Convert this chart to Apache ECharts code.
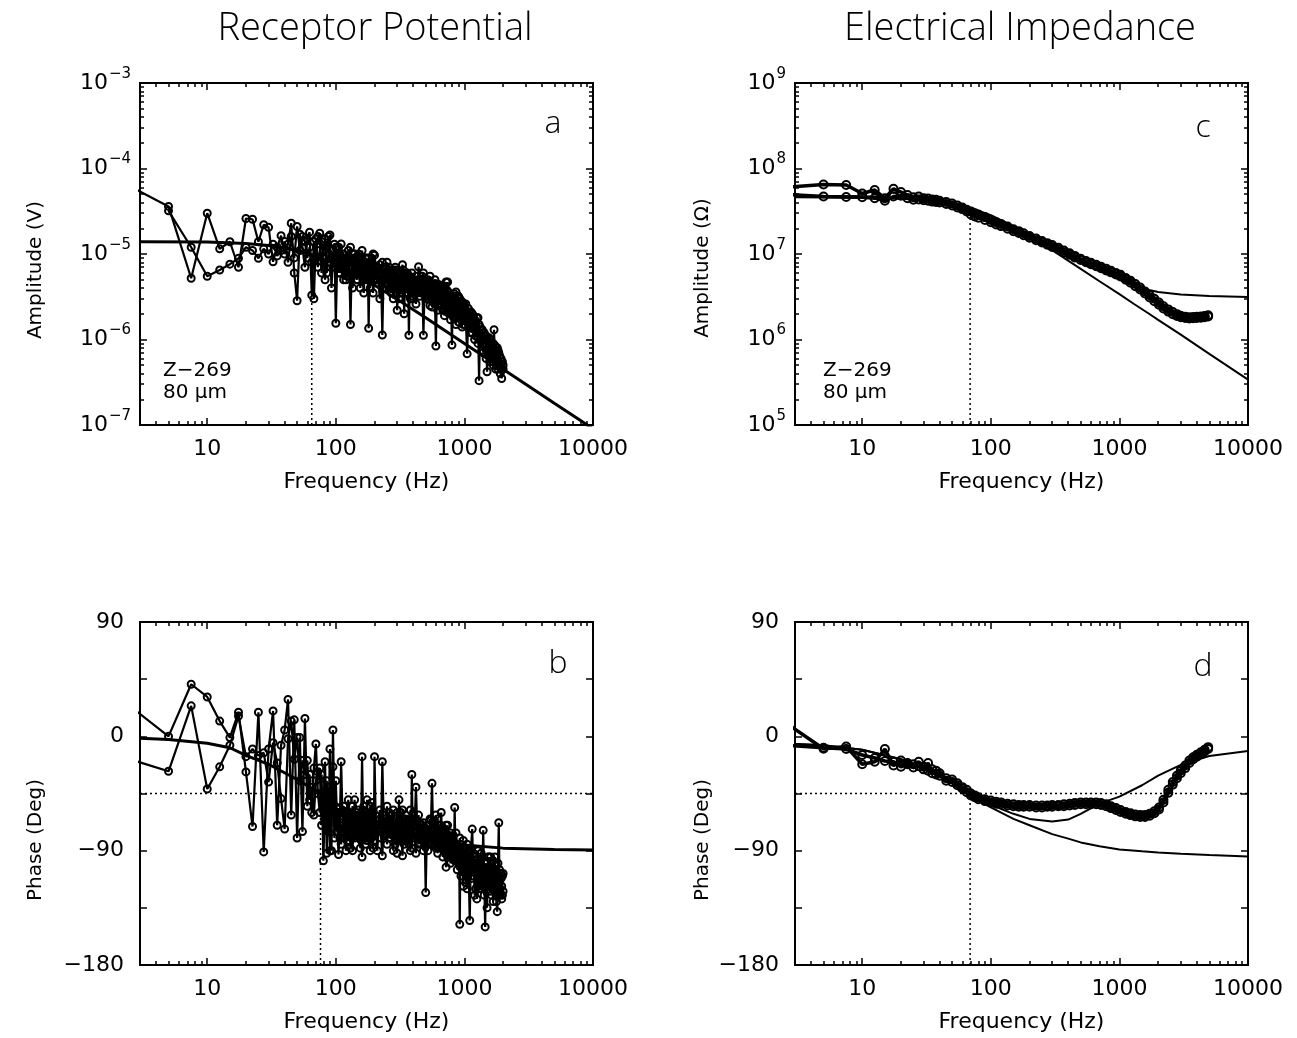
<!DOCTYPE html>
<html><head><meta charset="utf-8">
<script src="https://cdn.jsdelivr.net/npm/echarts@6/dist/echarts.min.js"></script>
<style>html,body{margin:0;padding:0;background:#fff}#c{width:1297px;height:1038px}</style>
</head><body><div id="c"></div>
<script>
// ---------------- DATA ----------------
// Receptor potential: frequencies (Hz) shared by amplitude (a) and phase (b)
const FREQ_RP = [2.5,5,7.5,10,12.5,15,17.5,20,22.5,25,27.5,30,32.5,35,37.5,40,42.5,45,47.5,50,52.5,55,57.5,60,62.5,65,67.5,70,72.5,75,77.5,80,82.5,85,87.5,90,92.5,95,97.5,100,
102.5,105,107.5,110,112.5,115,117.5,120,122.5,125,127.5,130,132.5,135,137.5,140,142.5,145,147.5,150,152.5,155,157.5,160,162.5,165,167.5,170,172.5,175,177.5,180,182.5,185,187.5,190,192.5,195,197.5,200,
205,210,215,220,225,230,235,240,245,250,255,260,265,270,275,280,285,290,295,300,305,310,315,320,325,330,335,340,345,350,355,360,365,370,375,380,385,390,395,400,
410,420,430,440,450,460,470,480,490,500,510,520,530,540,550,560,570,580,590,600,610,620,630,640,650,660,670,680,690,700,710,720,730,740,750,760,770,780,790,800,810,820,830,840,850,860,870,880,890,900,910,920,930,940,950,960,970,980,990,1000,
1025,1050,1075,1100,1125,1150,1175,1200,1225,1250,1275,1300,1325,1350,1375,1400,1425,1450,1475,1500,1525,1550,1575,1600,1625,1650,1675,1700,1725,1750,1775,1800,1825,1850,1875,1900,1925,1950,1975,2000];
// amplitude in microvolts (two repeated runs)
const AMP_A1_UV = [62,36,5.2,30,11.5,13.9,7.0,26,25.5,13.9,22,20.5,8.1,12,16.4,10,13,22.9,6,2.84,17,12,7,15,18,3.3,14,9,16,17.5,6,11,15,6,10,16.7,4,9,13,1.55,
8,12,6,7,9,10,6.5,5,8.5,11,7,1.5,6,8,10,9,6,5,8,7,9,4,6.5,11,7.5,6,8,9,5.5,5,7,1.35,6,8,5,6,7.5,3.5,6,9.7,
7,5,6,7.5,5,1.13,5.5,6.5,4.5,8,5,4,6.5,6,4,3,5.5,7,4.5,5,6,3,5,6,3.8,4.5,6.5,2,4.5,5.5,3.5,4,5.5,1.12,4,5,3.5,6,4.5,3,
4,5.5,3.5,7.1,4.5,3.5,5,1.12,4,4.5,3.2,3,4.8,5.5,3.5,2.4,4,4.5,3,0.84,3.2,3.8,4.4,2.6,3.3,4.2,2.8,2.2,3.6,3.5,2.4,2.6,3.8,4.7,2.7,2,3,3.2,2.2,0.86,2.5,2.8,3.2,1.8,2.4,3.6,2.5,2.2,3.1,1.6,2.5,3,1.9,2,2.8,2.7,2,1.5,2.6,2.4,
1.7,0.68,2.3,1.4,2.1,1.2,1.9,1.0,1.6,1.2,1.8,0.33,1.4,1.0,1.3,0.7,1.2,0.9,1.1,0.42,0.95,0.7,1.0,0.6,0.85,0.55,0.9,1.3,0.6,0.75,0.5,0.8,0.45,0.7,0.5,0.4,0.6,0.35,0.55,0.45];
const AMP_A2_UV = [null,32,12,5.5,6.5,7.6,8.9,12,11,8.9,11.5,10,13,9.5,11,14,8,16,9,21,11,16,14,9,12,8,3.0,15,7,11,14,9,5,12,16,8,11,7,9.5,12,
9,6,10,13.1,7,5,8,9,5.5,7,9,12,7,4,6,10,8,7.5,5,10,6.5,6,9,8,5,3.5,7,9,7.5,6.5,5,9,7,4,8,7.5,5.5,10,7,6,
5,7,4.5,3,6,8,4,4.5,7,5.5,6.5,7,4,3.5,6,6.5,4,5,6.5,2.2,4.5,6,3.5,4,6,7.5,4,5,6,3.5,5,6,3.5,4.5,5.5,3,4.5,5,3.2,4,
5,2.6,4.5,5,3.2,4,5.5,6,3.5,3,4.5,5,3,2.5,4.2,4,2.8,3.2,5,4.5,2.8,2.2,3.5,4,2.5,2.8,3.9,3.5,2.3,1.9,3.4,4.7,2.6,2.3,3.6,3.3,2.1,1.7,3.1,3,2.2,2,2.9,3.4,2.1,1.5,2.7,2.8,1.9,3.2,2.3,1.9,2.8,2.6,1.8,1.4,2.5,2.3,1.7,1.8,
2.6,2,1.5,2.1,1.2,2.0,1.4,1.7,1.1,1.8,0.9,1.5,1.0,1.3,0.75,1.2,0.9,1.1,0.6,1.0,0.7,1.05,0.55,0.9,0.65,0.8,0.5,0.75,0.85,0.45,0.7,0.5,0.75,0.5,0.65,0.6,0.45,0.55,0.45,0.5];
// phase in degrees (two repeated runs)
const PH_B1_DEG = [24,0,41,31,12,-1,19,-28,-71,19,-91,-10,20,-70,-7,5,29,-62,13,-80,-1,-75,14,-55,-30,-60,-25,-6,-45,-60,-30,-98,-50,-35,-75,-10,-90,5,-60,-35,
-70,-93,-65,-20,-60,-75,-80,-60,-72,-82,-65,-88,-62,-55,-75,-50,-70,-78,-64,-72,-80,-88,-66,-16,-58,-70,-78,-85,-68,-50,-72,-62,-80,-90,-70,-78,-66,-60,-75,-16,
-76,-70,-66,-58,-80,-94,-70,-65,-74,-55,-68,-80,-72,-62,-78,-90,-70,-85,-72,-60,-75,-50,-68,-75,-82,-94,-72,-68,-80,-65,-74,-82,-66,-78,-70,-58,-76,-30,-66,-72,
-70,-40,-74,-85,-68,-70,-82,-90,-72,-123,-78,-70,-84,-80,-66,-37,-72,-75,-86,-88,-74,-65,-80,-82,-70,-60,-84,-95,-80,-78,-88,-103,-82,-70,-86,-90,-80,-76,-92,-95,-84,-78,-90,-56,-86,-92,-98,-85,-94,-100,-90,-148,-96,-90,-104,-105,-92,-82,-98,-100,
-115,-85,-98,-145,-88,-73,-110,-95,-120,-100,-90,-120,-105,-92,-118,-74,-110,-150,-100,-115,-95,-118,-105,-95,-125,-108,-98,-120,-112,-105,-130,-138,-100,-68,-115,-125,-108,-128,-110,-108];
const PH_B2_DEG = [-18,-27.5,24,-41.5,-24,-7,16,-16,-10,-15,-13,-36,-5,-21,-49,-73,-2,12,-18,-1,-35,-19,-30,-19,-50,-40,-62,-35,-28,-25,-70,-55,-20,-92,-45,-90,-60,-24,-80,-60,
-75,-60,-80,-85,-68,-55,-72,-90,-62,-50,-78,-65,-80,-90,-66,-80,-62,-60,-76,-58,-70,-75,-82,-95,-70,-55,-66,-60,-78,-82,-64,-75,-70,-55,-80,-52,-72,-88,-68,-82,
-66,-90,-74,-65,-70,-20,-62,-78,-68,-85,-74,-60,-80,-72,-66,-58,-78,-70,-82,-92,-68,-80,-76,-60,-70,-58,-80,-85,-68,-62,-78,-75,-84,-72,-66,-90,-74,-88,-78,-65,
-80,-92,-70,-62,-84,-80,-72,-68,-86,-75,-70,-90,-76,-65,-82,-85,-74,-78,-70,-62,-84,-92,-76,-75,-88,-85,-74,-72,-90,-88,-76,-70,-92,-95,-80,-78,-94,-100,-86,-82,-96,-90,-84,-98,-92,-76,-90,-105,-98,-88,-100,-80,-95,-110,-98,-92,-106,-118,-100,-95,
-88,-120,-100,-90,-112,-105,-92,-125,-98,-128,-105,-100,-115,-120,-96,-108,-125,-100,-118,-135,-105,-95,-122,-110,-100,-120,-130,-105,-95,-118,-108,-115,-125,-110,-105,-120,-112,-118,-125,-122];
// fitted model curves (receptor potential)
const MODEL_A_HZ = [3,10,20,30,50,65,100,150,200,300,500,700,1000,1500,2000,3000,5000,8000,10000];
const MODEL_A_UV = [13.9,13.8,13.3,12.6,11,9.8,7.6,5.5,4.3,2.95,1.8,1.28,0.9,0.6,0.45,0.3,0.18,0.113,0.09];
const MODEL_B_HZ = [3,5,10,15,20,30,50,76,100,150,200,300,500,1000,2000,5000,10000];
const MODEL_B_DEG = [-1.5,-2.5,-5.5,-9,-15,-22,-34,-45,-53,-62,-68,-75,-81,-85.5,-88,-89,-89.5];
const CORNER_A_HZ = 65, CORNER_A_UV = 9.8;
const CORNER_B_HZ = 76;

// Electrical impedance: frequencies (Hz) shared by amplitude (c) and phase (d)
const FREQ_Z = [2.5,5,7.5,10,12.5,15,17.5,20,22.5,25,27.5,30,32.5,35,37.5,40,45,50,55,60,65,70,75,80,90,100,110,120,135,150,165,180,200,225,250,275,300,335,370,410,450,500,550,600,660,720,790,860,940,1020,1120,1220,1330,1450,1580,1720,1870,2030,2200,2400,2600,2800,3000,3250,3500,3750,4000,4300,4600,4900];
const IMP_C1_OHM = [6.0e7,6.5e7,6.4e7,5.1e7,5.6e7,4.5e7,5.8e7,5.3e7,4.9e7,4.6e7,4.7e7,4.5e7,4.45e7,4.35e7,4.3e7,4.2e7,4.05e7,3.9e7,3.7e7,3.5e7,3.3e7,3.15e7,3.0e7,2.9e7,2.7e7,2.5e7,2.35e7,2.25e7,2.1e7,1.95e7,1.85e7,1.75e7,1.62e7,1.52e7,1.42e7,1.34e7,1.27e7,1.18e7,1.1e7,1.02e7,9.5e6,8.8e6,8.3e6,7.9e6,7.5e6,7.1e6,6.7e6,6.35e6,6.0e6,5.7e6,5.25e6,4.85e6,4.45e6,4.05e6,3.65e6,3.3e6,3.0e6,2.7e6,2.45e6,2.25e6,2.1e6,1.98e6,1.9e6,1.85e6,1.82e6,1.83e6,1.85e6,1.86e6,1.88e6,1.92e6];
const IMP_C2_OHM = [5.0e7,4.7e7,4.65e7,4.6e7,4.5e7,4.2e7,4.7e7,4.8e7,4.5e7,4.3e7,4.35e7,4.25e7,4.2e7,4.1e7,4.05e7,4.0e7,3.85e7,3.7e7,3.5e7,3.35e7,3.15e7,2.9e7,2.75e7,2.65e7,2.5e7,2.35e7,2.22e7,2.12e7,1.98e7,1.85e7,1.76e7,1.66e7,1.55e7,1.45e7,1.36e7,1.28e7,1.21e7,1.13e7,1.05e7,9.8e6,9.1e6,8.5e6,8.0e6,7.6e6,7.2e6,6.8e6,6.4e6,6.1e6,5.75e6,5.45e6,5.0e6,4.6e6,4.2e6,3.85e6,3.45e6,3.1e6,2.8e6,2.55e6,2.3e6,2.12e6,1.98e6,1.88e6,1.82e6,1.78e6,1.76e6,1.77e6,1.78e6,1.8e6,1.82e6,1.86e6];
const PH_D1_DEG = [11,-9.8,-8,-22,-20,-10,-23,-19,-21,-22,-20,-26,-21,-29,-27,-31,-33,-34,-37,-40,-42,-45,-46.5,-48,-49.5,-50.5,-51.5,-52,-53,-53.5,-54,-54,-54,-54.5,-54.5,-54.5,-54,-54,-53.5,-53,-52.5,-52,-52,-52,-52,-52.5,-53.5,-55,-56.5,-58,-59.5,-60.5,-61.5,-62,-62,-61,-59,-56,-50,-42,-36,-31,-27,-23,-19,-16.5,-14.5,-12.5,-10.5,-8.5];
const PH_D2_DEG = [-7,-9,-10,-14.7,-17,-19.4,-20,-24,-22,-24.5,-23.5,-24,-27,-26,-30,-29,-35,-36,-38.5,-41,-44,-46.5,-48,-49.5,-51,-52,-53,-53.5,-54.5,-55,-55.5,-55.5,-55.5,-56,-56,-55.5,-55.5,-55,-55,-54.5,-54,-53.5,-53.5,-53.5,-53.5,-54,-55,-56.5,-58,-59.5,-61,-62,-63,-63.5,-63.5,-62.5,-60.5,-57.5,-52,-44.5,-38,-33,-29,-25,-21,-18,-16,-14,-12,-10];
// fitted model curves (impedance)
const MODEL_C_HZ = [3,10,20,30,50,70,100,150,200,300,500,700,1000,1300,1700,2000,3000,5000,10000];
const MODEL_C1_OHM = [4.6e7,4.56e7,4.44e7,4.26e7,3.81e7,3.34e7,2.74e7,2.04e7,1.6e7,1.11e7,6.7e6,4.8e6,3.4e6,2.6e6,2.0e6,1.7e6,1.14e6,6.8e5,3.4e5];
const MODEL_C2_OHM = [4.8e7,4.75e7,4.6e7,4.4e7,3.95e7,3.45e7,2.85e7,2.12e7,1.68e7,1.2e7,8.0e6,6.4e6,5.1e6,4.3e6,3.8e6,3.6e6,3.35e6,3.22e6,3.15e6];
const MODEL_D_HZ = [3,5,10,20,30,50,69,100,150,200,300,400,500,700,1000,1500,2000,3000,5000,10000];
const MODEL_D1_DEG = [-6,-7,-10.5,-18,-25,-37,-47,-56,-65,-70,-77,-80.5,-83.5,-86.5,-89,-90.5,-91.5,-92.5,-93.5,-94.5];
const MODEL_D2_DEG = [-6,-7,-10.5,-18,-25,-36,-45,-54,-61,-65,-67,-65.5,-61,-53,-47.5,-38.5,-31,-22.5,-15.5,-11.5];
const CORNER_C_HZ = 69, CORNER_C_OHM = 3.0e7;
const CORNER_D_HZ = 69;

// axis ticks / labels
const X_MINOR = [4,5,6,7,8,9,20,30,40,50,60,70,80,90,200,300,400,500,600,700,800,900,2000,3000,4000,5000,6000,7000,8000,9000];
const YA_MINOR = [2e-7,3e-7,4e-7,5e-7,6e-7,7e-7,8e-7,9e-7,2e-6,3e-6,4e-6,5e-6,6e-6,7e-6,8e-6,9e-6,2e-5,3e-5,4e-5,5e-5,6e-5,7e-5,8e-5,9e-5,2e-4,3e-4,4e-4,5e-4,6e-4,7e-4,8e-4,9e-4];
const YC_MINOR = [2e5,3e5,4e5,5e5,6e5,7e5,8e5,9e5,2e6,3e6,4e6,5e6,6e6,7e6,8e6,9e6,2e7,3e7,4e7,5e7,6e7,7e7,8e7,9e7,2e8,3e8,4e8,5e8,6e8,7e8,8e8,9e8];
const PHASE_LABELS = [90,0,-90,-180];
const UV = 1e-6;

// ---------------- CHART ----------------
const FONT = 'DejaVu Sans';
const K = '#000';
const GRIDS = [
  {left:140, top:83, width:453, height:342},
  {left:140, top:622, width:453, height:343},
  {left:795, top:83, width:453, height:342},
  {left:795, top:622, width:453, height:343}
];
const xAxes = [], yAxes = [];
const tickStyle = {color:K, width:1.5};
function isDecade(v){ const l=Math.log10(v); return Math.abs(l-Math.round(l))<1e-6; }
function addX(g, pos, minor, withLabel){
  const ax = {
    type:'log', logBase:10, gridIndex:g, position:pos, min:3, max:10000,
    axisLine:{show:false, onZero:false}, splitLine:{show:false},
    axisTick:{show:true, inside:true, length: minor?4:7, lineStyle:tickStyle},
    axisLabel:{show:false}
  };
  if (minor) ax.axisTick.customValues = X_MINOR;
  if (withLabel){
    ax.axisLabel = {show:true, margin:13, color:K, fontFamily:FONT, fontSize:22,
      formatter: v => isDecade(v) ? String(Math.round(v)) : ''};
    ax.name = 'Frequency (Hz)'; ax.nameLocation='middle'; ax.nameGap=46;
    ax.nameTextStyle = {color:K, fontFamily:FONT, fontSize:22};
  }
  xAxes.push(ax); return xAxes.length-1;
}
function addYLog(g, pos, min, max, minorVals, withLabel){
  const ax = {
    type:'log', logBase:10, gridIndex:g, position:pos, min:min, max:max,
    axisLine:{show:false, onZero:false}, splitLine:{show:false},
    axisTick:{show:true, inside:true, length: minorVals?4:7, lineStyle:tickStyle},
    axisLabel:{show:false}
  };
  if (minorVals) ax.axisTick.customValues = minorVals;
  if (withLabel){
    ax.axisLabel = {show:true, margin:9, color:K,
      formatter: v => { const e=Math.round(Math.log10(v)); return '{b|10}{s|'+String(e).replace('-','−')+'}'; },
      rich:{ b:{fontFamily:FONT, fontSize:22, color:K},
             s:{fontFamily:FONT, fontSize:15, color:K, padding:[0,0,18,1]} } };
  }
  yAxes.push(ax); return yAxes.length-1;
}
function addYPhase(g, pos, withLabel){
  const ax = {
    type:'value', gridIndex:g, position:pos, min:-180, max:90, interval:45,
    axisLine:{show:false, onZero:false}, splitLine:{show:false},
    axisTick:{show:true, inside:true, length:7, lineStyle:tickStyle},
    axisLabel:{show:false}
  };
  if (withLabel){
    ax.axisLabel = {show:true, margin:16, color:K, fontFamily:FONT, fontSize:22,
      formatter: v => PHASE_LABELS.indexOf(v)>=0 ? String(v).replace('-','−') : ''};
  }
  yAxes.push(ax); return yAxes.length-1;
}
const MX = [], MY = [];
for (let g=0; g<4; g++){
  MX[g] = addX(g,'bottom',false,true);
  addX(g,'bottom',true,false);
  addX(g,'top',false,false);
  addX(g,'top',true,false);
}
MY[0] = addYLog(0,'left',1e-7,1e-3,null,true);
addYLog(0,'left',1e-7,1e-3,YA_MINOR,false); addYLog(0,'right',1e-7,1e-3,null,false); addYLog(0,'right',1e-7,1e-3,YA_MINOR,false);
MY[1] = addYPhase(1,'left',true); addYPhase(1,'right',false);
MY[2] = addYLog(2,'left',1e5,1e9,null,true);
addYLog(2,'left',1e5,1e9,YC_MINOR,false); addYLog(2,'right',1e5,1e9,null,false); addYLog(2,'right',1e5,1e9,YC_MINOR,false);
MY[3] = addYPhase(3,'left',true); addYPhase(3,'right',false);

function pairs(xs, ys, scale){ return xs.map((x,i)=>[x, ys[i]==null?null:ys[i]*(scale||1)]); }
function dataSeries(g, xs, ys, scale, big){
  return {type:'line', xAxisIndex:MX[g], yAxisIndex:MY[g], data:pairs(xs,ys,scale),
    symbol:'circle', symbolSize: big?8:7, showSymbol:true, connectNulls:false,
    lineStyle:{color:K, width: big?3.5:2.2},
    itemStyle:{color:'rgba(255,255,255,0)', borderColor:K, borderWidth: 2},
    z:3, clip:true, silent:true};
}
function modelSeries(g, xs, ys, scale, w){
  return {type:'line', xAxisIndex:MX[g], yAxisIndex:MY[g], data:pairs(xs,ys,scale),
    symbol:'none', lineStyle:{color:K, width:w}, z:4, clip:true, silent:true};
}
function dotSeries(g, pts){
  return {type:'line', xAxisIndex:MX[g], yAxisIndex:MY[g], data:pts, symbol:'none',
    lineStyle:{color:K, width:1.5, type:[2,3]}, z:2, clip:true, silent:true};
}
const series = [
  dotSeries(0, [[CORNER_A_HZ,1e-7],[CORNER_A_HZ,CORNER_A_UV*UV]]),
  dataSeries(0, FREQ_RP, AMP_A1_UV, UV), dataSeries(0, FREQ_RP, AMP_A2_UV, UV),
  modelSeries(0, MODEL_A_HZ, MODEL_A_UV, UV, 3),
  dotSeries(1, [[3,-45],[10000,-45]]), dotSeries(1, [[CORNER_B_HZ,-180],[CORNER_B_HZ,-45]]),
  dataSeries(1, FREQ_RP, PH_B1_DEG), dataSeries(1, FREQ_RP, PH_B2_DEG),
  modelSeries(1, MODEL_B_HZ, MODEL_B_DEG, 1, 3),
  dotSeries(2, [[CORNER_C_HZ,1e5],[CORNER_C_HZ,CORNER_C_OHM]]),
  modelSeries(2, MODEL_C_HZ, MODEL_C1_OHM, 1, 2), modelSeries(2, MODEL_C_HZ, MODEL_C2_OHM, 1, 2),
  dataSeries(2, FREQ_Z, IMP_C1_OHM, 1, true), dataSeries(2, FREQ_Z, IMP_C2_OHM, 1, true),
  dotSeries(3, [[3,-45],[10000,-45]]), dotSeries(3, [[CORNER_D_HZ,-180],[CORNER_D_HZ,-45]]),
  modelSeries(3, MODEL_D_HZ, MODEL_D1_DEG, 1, 2), modelSeries(3, MODEL_D_HZ, MODEL_D2_DEG, 1, 2),
  dataSeries(3, FREQ_Z, PH_D1_DEG, 1, true), dataSeries(3, FREQ_Z, PH_D2_DEG, 1, true)
];

function txt(x, y, s, font, align, rot){
  return {type:'text', x:x, y:y, rotation:rot||0, silent:true, z:10,
    style:{text:s, font:font, fill:K, textAlign:align||'center', textVerticalAlign:'middle', lineHeight:22}};
}
const TITLE_FONT = '300 38px "Open Sans", "DejaVu Sans"';
const LETTER_FONT = '300 32px "Open Sans", "DejaVu Sans"';
const graphic = [
  txt(375, 29, 'Receptor Potential', TITLE_FONT),
  txt(1020, 29, 'Electrical Impedance', TITLE_FONT),
  txt(553, 124, 'a', LETTER_FONT),
  txt(1203, 128, 'c', LETTER_FONT),
  txt(558, 664, 'b', LETTER_FONT),
  txt(1203, 667, 'd', LETTER_FONT),
  txt(163, 382, 'Z−269\n80 μm', '20px "DejaVu Sans"', 'left'),
  txt(823, 382, 'Z−269\n80 μm', '20px "DejaVu Sans"', 'left'),
  txt(36, 270, 'Amplitude (V)', '20px "DejaVu Sans"', 'center', Math.PI/2),
  txt(703, 268, 'Amplitude (Ω)', '20px "DejaVu Sans"', 'center', Math.PI/2),
  txt(36, 840, 'Phase (Deg)', '20px "DejaVu Sans"', 'center', Math.PI/2),
  txt(703, 840, 'Phase (Deg)', '20px "DejaVu Sans"', 'center', Math.PI/2)
];

const chart = echarts.init(document.getElementById('c'), null, {renderer:'canvas'});
chart.setOption({
  animation:false, backgroundColor:'#fff',
  grid: GRIDS.map(g => Object.assign({show:true, borderColor:K, borderWidth:2, backgroundColor:'transparent', containLabel:false}, g)),
  xAxis: xAxes, yAxis: yAxes, series: series, graphic: graphic
});
</script></body></html>
